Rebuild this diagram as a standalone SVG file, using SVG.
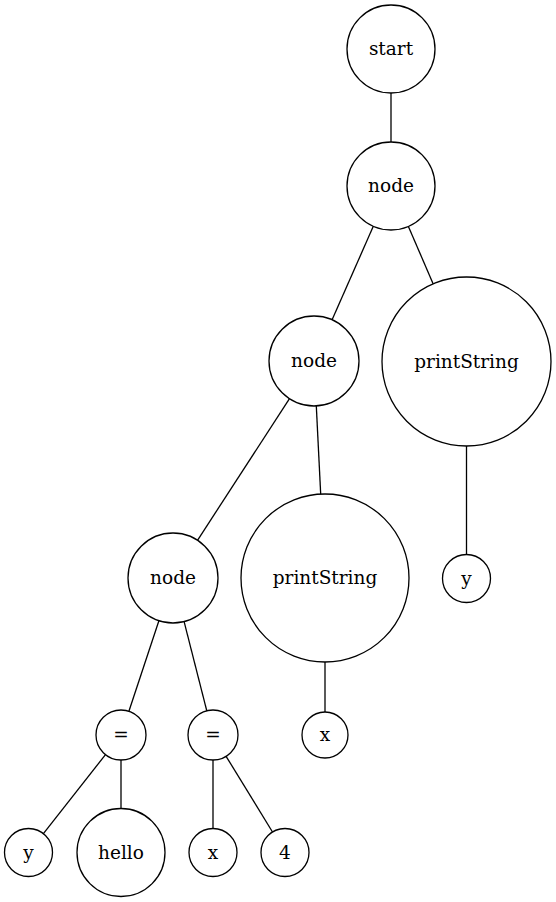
<svg xmlns="http://www.w3.org/2000/svg" width="556" height="902" viewBox="0 0 556 902">
<style>
circle{fill:none;stroke:#000;stroke-width:1.3}
line{stroke:#000;stroke-width:1.3}
text{font-family:"DejaVu Serif",serif;font-size:18.5px;text-anchor:middle;fill:#000}
</style>
<rect width="556" height="902" fill="#fff"/>
<g id="connectors">
<line x1="391" y1="93" x2="391" y2="142"/>
<line x1="373.3" y1="226.3" x2="332.1" y2="319.8"/>
<line x1="408.4" y1="226.4" x2="433.1" y2="283.8"/>
<line x1="289.5" y1="398.7" x2="197.5" y2="540.3"/>
<line x1="316.3" y1="406" x2="320.7" y2="494.1"/>
<line x1="466.5" y1="446" x2="466.5" y2="554.5"/>
<line x1="158.9" y1="620.7" x2="128.9" y2="711.3"/>
<line x1="184.1" y1="621.6" x2="206.8" y2="710.8"/>
<line x1="325" y1="662" x2="325" y2="712"/>
<line x1="105.5" y1="754.6" x2="43.4" y2="833.6"/>
<line x1="121" y1="760" x2="121" y2="808.5"/>
<line x1="213" y1="760" x2="213" y2="828.5"/>
<line x1="226.1" y1="756.3" x2="272.5" y2="832"/>
</g>
<g id="start"><circle cx="391" cy="49" r="44"/><text x="391" y="55">start</text></g>
<g id="node1"><circle cx="391" cy="186" r="44"/><text x="391" y="192">node</text></g>
<g id="node2"><circle cx="314" cy="361" r="45"/><text x="314" y="367">node</text></g>
<g id="printString1"><circle cx="466.5" cy="361.5" r="84.5"/><text x="466.5" y="367.5">printString</text></g>
<g id="node3"><circle cx="173" cy="578" r="45"/><text x="173" y="584">node</text></g>
<g id="printString2"><circle cx="325" cy="578" r="84"/><text x="325" y="584">printString</text></g>
<g id="y1"><circle cx="466.5" cy="578.5" r="24"/><text x="466.5" y="584.5">y</text></g>
<g id="eq1"><circle cx="121" cy="735" r="25"/><text x="121" y="741">=</text></g>
<g id="eq2"><circle cx="213" cy="735" r="25"/><text x="213" y="741">=</text></g>
<g id="x1"><circle cx="325" cy="735" r="23"/><text x="325" y="741">x</text></g>
<g id="y2"><circle cx="28.5" cy="852.5" r="24"/><text x="28.5" y="858.5">y</text></g>
<g id="hello"><circle cx="121" cy="852.5" r="44"/><text x="121" y="858.5">hello</text></g>
<g id="x2"><circle cx="213" cy="852.5" r="24"/><text x="213" y="858.5">x</text></g>
<g id="four"><circle cx="285" cy="852.5" r="24"/><text x="285" y="858.5">4</text></g>
</svg>
